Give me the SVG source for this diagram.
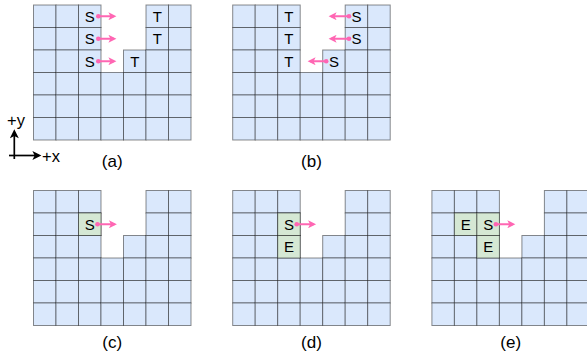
<svg xmlns="http://www.w3.org/2000/svg" xmlns:xlink="http://www.w3.org/1999/xlink" width="587" height="360" viewBox="0 0 587 360">
<style>
.c{fill:#dae8fc;stroke:#000;stroke-opacity:0.45;stroke-width:1}
.g{fill:#d5e8d4;stroke:#000;stroke-opacity:0.45;stroke-width:1}
.t{font-family:"Liberation Sans",Arial,sans-serif;font-size:15px;fill:#000;text-anchor:middle}
.lbl{font-family:"Liberation Sans",Arial,sans-serif;font-size:17px;fill:#000;text-anchor:middle}
.axl{font-family:"Liberation Sans",Arial,sans-serif;font-size:16.5px;fill:#000}
.ar{stroke:#FF66B3;stroke-width:2;fill:none;marker-end:url(#ph)}
.dot{fill:#FF66B3}
.ax{stroke:#000;stroke-width:1.7;fill:none;marker-end:url(#bh)}
</style>
<defs>
<marker id="ph" viewBox="0 0 10 10" refX="7" refY="5" markerWidth="9" markerHeight="8" orient="auto" markerUnits="userSpaceOnUse"><path d="M0,0 L10,5 L0,10 L2.5,5 Z" fill="#FF66B3"/></marker>
<marker id="bh" viewBox="0 0 10 10" refX="7" refY="5" markerWidth="10" markerHeight="9" orient="auto" markerUnits="userSpaceOnUse"><path d="M0,0 L10,5 L0,10 L2.5,5 Z" fill="#000"/></marker>
<g id="grid">
<rect class="c" x="0" y="0" width="22.5" height="22.5"/><rect class="c" x="0" y="22.5" width="22.5" height="22.5"/><rect class="c" x="0" y="45" width="22.5" height="22.5"/><rect class="c" x="0" y="67.5" width="22.5" height="22.5"/><rect class="c" x="0" y="90" width="22.5" height="22.5"/><rect class="c" x="0" y="112.5" width="22.5" height="22.5"/>
<rect class="c" x="22.5" y="0" width="22.5" height="22.5"/><rect class="c" x="22.5" y="22.5" width="22.5" height="22.5"/><rect class="c" x="22.5" y="45" width="22.5" height="22.5"/><rect class="c" x="22.5" y="67.5" width="22.5" height="22.5"/><rect class="c" x="22.5" y="90" width="22.5" height="22.5"/><rect class="c" x="22.5" y="112.5" width="22.5" height="22.5"/>
<rect class="c" x="45" y="0" width="22.5" height="22.5"/><rect class="c" x="45" y="22.5" width="22.5" height="22.5"/><rect class="c" x="45" y="45" width="22.5" height="22.5"/><rect class="c" x="45" y="67.5" width="22.5" height="22.5"/><rect class="c" x="45" y="90" width="22.5" height="22.5"/><rect class="c" x="45" y="112.5" width="22.5" height="22.5"/>
<rect class="c" x="67.5" y="67.5" width="22.5" height="22.5"/><rect class="c" x="67.5" y="90" width="22.5" height="22.5"/><rect class="c" x="67.5" y="112.5" width="22.5" height="22.5"/>
<rect class="c" x="90" y="45" width="22.5" height="22.5"/><rect class="c" x="90" y="67.5" width="22.5" height="22.5"/><rect class="c" x="90" y="90" width="22.5" height="22.5"/><rect class="c" x="90" y="112.5" width="22.5" height="22.5"/>
<rect class="c" x="112.5" y="0" width="22.5" height="22.5"/><rect class="c" x="112.5" y="22.5" width="22.5" height="22.5"/><rect class="c" x="112.5" y="45" width="22.5" height="22.5"/><rect class="c" x="112.5" y="67.5" width="22.5" height="22.5"/><rect class="c" x="112.5" y="90" width="22.5" height="22.5"/><rect class="c" x="112.5" y="112.5" width="22.5" height="22.5"/>
<rect class="c" x="135" y="0" width="22.5" height="22.5"/><rect class="c" x="135" y="22.5" width="22.5" height="22.5"/><rect class="c" x="135" y="45" width="22.5" height="22.5"/><rect class="c" x="135" y="67.5" width="22.5" height="22.5"/><rect class="c" x="135" y="90" width="22.5" height="22.5"/><rect class="c" x="135" y="112.5" width="22.5" height="22.5"/>
</g>
</defs>

<g id="panel-a" transform="translate(33.5,5)">
<use xlink:href="#grid" href="#grid"/>
<text class="t" x="56.25" y="16.7">S</text><text class="t" x="56.25" y="39.2">S</text><text class="t" x="56.25" y="61.7">S</text>
<text class="t" x="123.75" y="16.7">T</text><text class="t" x="123.75" y="39.2">T</text><text class="t" x="101.25" y="61.7">T</text>
<text class="lbl" x="78.75" y="162">(a)</text>
</g>
<g id="panel-b" transform="translate(232.7,5)">
<use xlink:href="#grid" href="#grid"/>
<text class="t" x="56.25" y="16.7">T</text><text class="t" x="56.25" y="39.2">T</text><text class="t" x="56.25" y="61.7">T</text>
<text class="t" x="123.75" y="16.7">S</text><text class="t" x="123.75" y="39.2">S</text><text class="t" x="101.25" y="61.7">S</text>
<text class="lbl" x="78.75" y="162">(b)</text>
</g>
<g id="panel-c" transform="translate(33.5,190.5)">
<use xlink:href="#grid" href="#grid"/>
<rect class="g" x="45" y="22.5" width="22.5" height="22.5"/>
<text class="t" x="56.25" y="39.2">S</text>
<text class="lbl" x="78.75" y="157">(c)</text>
</g>
<g id="panel-d" transform="translate(232.7,190.5)">
<use xlink:href="#grid" href="#grid"/>
<rect class="g" x="45" y="22.5" width="22.5" height="22.5"/><rect class="g" x="45" y="45" width="22.5" height="22.5"/>
<text class="t" x="56.25" y="39.2">S</text><text class="t" x="56.25" y="61.7">E</text>
<text class="lbl" x="78.75" y="157">(d)</text>
</g>
<g id="panel-e" transform="translate(431.9,190.5)">
<use xlink:href="#grid" href="#grid"/>
<rect class="g" x="22.5" y="22.5" width="22.5" height="22.5"/><rect class="g" x="45" y="22.5" width="22.5" height="22.5"/><rect class="g" x="45" y="45" width="22.5" height="22.5"/>
<text class="t" x="33.75" y="39.2">E</text><text class="t" x="56.25" y="39.2">S</text><text class="t" x="56.25" y="61.7">E</text>
<text class="lbl" x="78.75" y="157">(e)</text>
</g>

<g id="axes">
<line class="ax" x1="14.3" y1="159" x2="14.3" y2="132"/>
<line class="ax" x1="9" y1="155.5" x2="38.7" y2="155.5"/>
<text class="axl" x="7" y="125.5">+y</text>
<text class="axl" x="42" y="161.5">+x</text>
</g>

<g id="connectors">
<g transform="translate(33.5,5)">
<circle class="dot" cx="64.8" cy="11.25" r="2.3"/><line class="ar" x1="64.8" y1="11.25" x2="80.5" y2="11.25"/>
<circle class="dot" cx="64.8" cy="33.75" r="2.3"/><line class="ar" x1="64.8" y1="33.75" x2="80.5" y2="33.75"/>
<circle class="dot" cx="64.8" cy="56.25" r="2.3"/><line class="ar" x1="64.8" y1="56.25" x2="80.5" y2="56.25"/>
</g>
<g transform="translate(232.7,5)">
<circle class="dot" cx="116.3" cy="11.25" r="2.3"/><line class="ar" x1="116.3" y1="11.25" x2="98.3" y2="11.25"/>
<circle class="dot" cx="116.3" cy="33.75" r="2.3"/><line class="ar" x1="116.3" y1="33.75" x2="98.3" y2="33.75"/>
<circle class="dot" cx="93.5" cy="56.25" r="2.3"/><line class="ar" x1="93.5" y1="56.25" x2="77.3" y2="56.25"/>
</g>
<g transform="translate(33.5,190.5)">
<circle class="dot" cx="64" cy="33.75" r="2.3"/><line class="ar" x1="64" y1="33.75" x2="81" y2="33.75"/>
</g>
<g transform="translate(232.7,190.5)">
<circle class="dot" cx="64" cy="33.75" r="2.3"/><line class="ar" x1="64" y1="33.75" x2="81" y2="33.75"/>
</g>
<g transform="translate(431.9,190.5)">
<circle class="dot" cx="64" cy="33.75" r="2.3"/><line class="ar" x1="64" y1="33.75" x2="81" y2="33.75"/>
</g>
</g>
</svg>
